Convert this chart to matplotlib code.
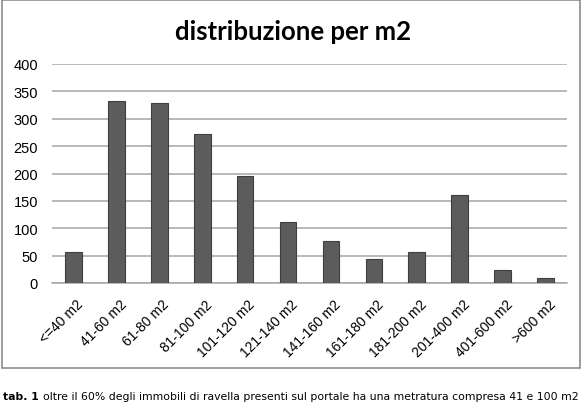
import matplotlib.pyplot as plt
import matplotlib.transforms as mtransforms
from matplotlib.patches import Rectangle

categories = ["<=40 m2", "41-60 m2", "61-80 m2", "81-100 m2", "101-120 m2",
              "121-140 m2", "141-160 m2", "161-180 m2", "181-200 m2",
              "201-400 m2", "401-600 m2", ">600 m2"]
counts = [57, 333, 329, 273, 195, 111, 77, 43, 56, 161, 24, 10]
yticks = [0, 50, 100, 150, 200, 250, 300, 350, 400]

W, H = 584, 410
fig = plt.figure(figsize=(W / 100, H / 100), dpi=100)

# outer chart frame
fig.patches.append(Rectangle((2 / W, 1 - 369 / H), 578 / W, 368 / H,
                             transform=fig.transFigure, fill=False,
                             edgecolor="#8c8c8c", linewidth=1.2))

ax = fig.add_axes([52 / W, 1 - 284 / H, 515 / W, 219 / H])
x = range(len(categories))
ax.bar(x, counts, width=0.39, color="#5c5c5c", edgecolor="#3f3f3f",
       linewidth=0.8, zorder=3)

ax.set_xlim(-0.5, len(categories) - 0.5)
ax.set_ylim(0, 400)
ax.set_yticks(yticks)
ax.set_yticklabels([str(v) for v in yticks], fontsize=10.5,
                   family="Liberation Sans")
ax.yaxis.grid(True, color="#a6a6a6", linewidth=1.1, zorder=0)
ax.set_axisbelow(True)
for s in ["top", "right", "left"]:
    ax.spines[s].set_visible(False)
ax.spines["bottom"].set_color("#a6a6a6")
ax.spines["bottom"].set_linewidth(1.1)
ax.tick_params(axis="y", length=0, pad=10)
ax.tick_params(axis="x", length=0, pad=10)
ax.set_xticks(list(x))
ax.set_xticklabels(categories, rotation=45, ha="right",
                   rotation_mode="anchor", fontsize=10,
                   family="Liberation Sans")
shift = mtransforms.ScaledTranslation(3 / 100, 0, fig.dpi_scale_trans)
for lab in ax.get_xticklabels():
    lab.set_transform(lab.get_transform() + shift)

fig.text(293 / W, 1 - 32 / H, "distribuzione per m2", ha="center",
         va="center", fontsize=18.5, fontweight="bold", family="Lato")

# caption: bold "tab. 1" followed by normal text
t1 = fig.text(3 / W, 1 - 397 / H, "tab. 1", ha="left", va="center",
              fontsize=7.8, fontweight="bold", family="DejaVu Sans")
fig.canvas.draw()
bb = t1.get_window_extent()
fig.text((bb.x1 + 4) / W, 1 - 397 / H,
         "oltre il 60% degli immobili di ravella presenti sul portale ha una "
         "metratura compresa 41 e 100 m2",
         ha="left", va="center", fontsize=7.8, family="DejaVu Sans")

fig.savefig("out.png", dpi=100)
